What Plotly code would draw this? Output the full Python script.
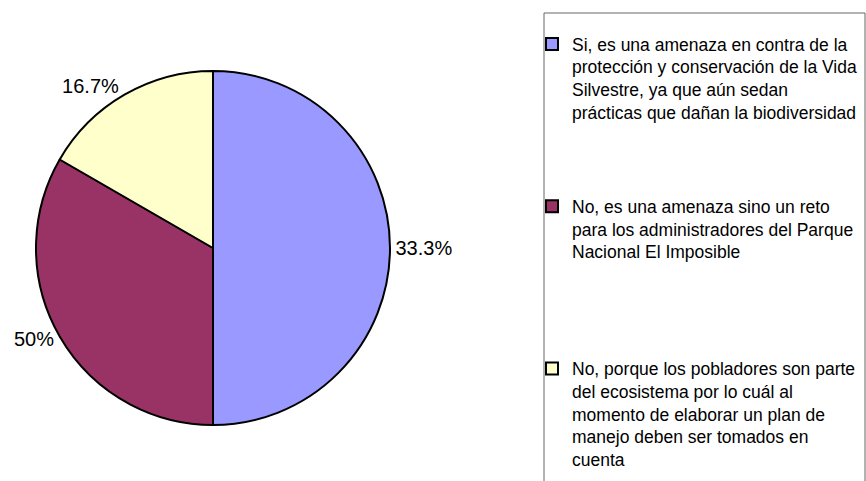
import plotly.graph_objects as go

# ─────────────────────────────────────────────────────────────────────────────
# DATOS
# ─────────────────────────────────────────────────────────────────────────────

RESPUESTAS = [
    ["Si, es una amenaza en contra de la",
     "protección y conservación de la Vida",
     "Silvestre, ya que aún sedan",
     "prácticas que dañan la biodiversidad"],
    ["No, es una amenaza sino un reto",
     "para los administradores del Parque",
     "Nacional El Imposible"],
    ["No, porque los pobladores son parte",
     "del ecosistema por lo cuál al",
     "momento de elaborar un plan de",
     "manejo deben ser tomados en",
     "cuenta"],
]

# tamaño de cada sector (proporción del círculo)
VALORES = [3, 2, 1]

# rótulos de porcentaje tal como aparecen en el gráfico original
ETIQUETAS_PCT = ["33.3%", "50%", "16.7%"]

COLORES = ["#9999FF", "#993366", "#FFFFCC"]

FUENTE = "Liberation Sans, Arial, sans-serif"
W, H = 866, 481

# ─────────────────────────────────────────────────────────────────────────────
# FIGURA
# ─────────────────────────────────────────────────────────────────────────────

# cada entrada de la leyenda ocupa 7 renglones (espaciado uniforme)
RENGLONES = 7
etiquetas = []
for i, lineas in enumerate(RESPUESTAS):
    relleno = ["\u00a0"] * (RENGLONES - len(lineas)) if i < len(RESPUESTAS) - 1 else []
    etiquetas.append("<br>".join(lineas + relleno))

cx, cy, r = 213, 248, 177

fig = go.Figure(go.Pie(
    labels=etiquetas,
    values=VALORES,
    text=ETIQUETAS_PCT,
    textinfo="text",
    textposition="outside",
    outsidetextfont=dict(family=FUENTE, size=20, color="#000000"),
    sort=False,
    direction="clockwise",
    rotation=0,
    marker=dict(colors=COLORES, line=dict(color="#000000", width=2)),
    domain=dict(x=[(cx - r) / W, (cx + r) / W],
                y=[(H - cy - r) / H, (H - cy + r) / H]),
    hovertemplate="%{text}<extra></extra>",
))

# recuadro de la leyenda
fig.add_shape(
    type="rect", xref="paper", yref="paper",
    x0=544 / W, x1=865 / W, y0=-0.05, y1=(H - 13) / H,
    line=dict(color="#666666", width=1),
    fillcolor="rgba(0,0,0,0)",
)

fig.update_layout(
    width=W, height=H,
    margin=dict(l=0, r=0, t=0, b=0, autoexpand=False),
    paper_bgcolor="white",
    plot_bgcolor="white",
    font=dict(family=FUENTE, color="#000000"),
    showlegend=True,
    legend=dict(
        x=532 / W, xanchor="left",
        y=(H - 26) / H, yanchor="top",
        font=dict(family=FUENTE, size=17.5, color="#000000"),
        valign="top",
        bgcolor="rgba(0,0,0,0)",
        borderwidth=0,
        itemwidth=30,
        tracegroupgap=0,
    ),
)

fig.write_html(
    "out.html",
    config={"displayModeBar": False},
    post_script="document.body.style.margin='0';",
)
